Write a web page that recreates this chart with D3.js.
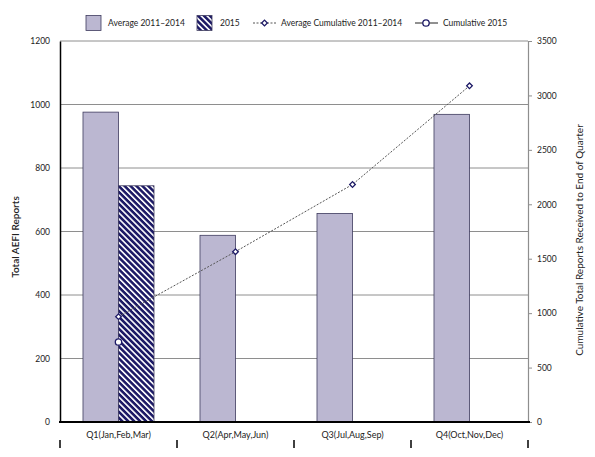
<!DOCTYPE html>
<html>
<head>
<meta charset="utf-8">
<script src="https://cdn.jsdelivr.net/npm/d3@7"></script>
<style>
  body { margin: 0; background: #fff; }
  text { font-family: Lato, "Open Sans", sans-serif; fill: #222; }
</style>
</head>
<body>
<div id="chart"></div>
<script>
var quarters = ['Q1(Jan,Feb,Mar)', 'Q2(Apr,May,Jun)', 'Q3(Jul,Aug,Sep)', 'Q4(Oct,Nov,Dec)'];
var avgReports = [976, 588, 657, 969];
var reports2015 = [744, null, null, null];
var avgCumulative = [968, 1565, 2182, 3088];
var cumulative2015 = [735, null, null, null];
var leftTicks = [0, 200, 400, 600, 800, 1000, 1200];
var rightTicks = [0, 500, 1000, 1500, 2000, 2500, 3000, 3500];

function AefiChart() {
  this._width = 595;
  this._height = 457;
  this._left = 60;
  this._right = 528;
  this._top = 41;
  this._bottom = 422;
  this._navy = '#1d1a66';
  this._lilac = '#bbb7d1';
}

AefiChart.prototype._defs = function(svg) {
  let pat = svg.append('defs').append('pattern')
    .attr('id', 'hatch')
    .attr('patternUnits', 'userSpaceOnUse')
    .attr('width', 4.2)
    .attr('height', 4.2)
    .attr('patternTransform', 'rotate(-45)');
  pat.append('rect').attr('width', 4.2).attr('height', 4.2).attr('fill', this._navy);
  pat.append('rect').attr('x', 0).attr('width', 1.6).attr('height', 4.2).attr('fill', '#fff');
}

// small rotated square used for the average cumulative series
AefiChart.prototype._diamond = d3.symbol().type(d3.symbolSquare).size(16);

AefiChart.prototype._axes = function(svg, y, y2) {
  let self = this;
  // gridlines
  svg.append('g').selectAll('line')
    .data(leftTicks.slice(1))
    .join('line')
    .attr('x1', self._left).attr('x2', self._right)
    .attr('y1', d => y(d)).attr('y2', d => y(d))
    .attr('stroke', '#8e8e8e').attr('stroke-width', 1);

  // left axis
  let la = svg.append('g')
    .attr('transform', 'translate(' + self._left + ',0)')
    .call(d3.axisLeft(y).tickValues(leftTicks).tickFormat(d3.format('d')).tickSize(0).tickPadding(10));
  la.select('.domain').attr('stroke', '#000').attr('stroke-width', 1.5);
  la.selectAll('text').attr('font-size', '8.5px').attr('font-family', 'Lato, sans-serif').attr('fill', '#333');

  // right axis
  let ra = svg.append('g')
    .attr('transform', 'translate(' + self._right + ',0)')
    .call(d3.axisRight(y2).tickValues(rightTicks).tickFormat(d3.format('d')).tickSize(4).tickPadding(5));
  ra.select('.domain').attr('stroke', '#8e8e8e').attr('stroke-width', 1.2);
  ra.selectAll('line').attr('stroke', '#8e8e8e');
  ra.selectAll('text').attr('font-size', '8.5px').attr('font-family', 'Lato, sans-serif').attr('fill', '#333');

  // axis titles
  svg.append('text')
    .attr('transform', 'translate(19,237) rotate(-90)')
    .attr('text-anchor', 'middle')
    .attr('font-size', '10px')
    .attr('font-weight', 600)
    .attr('fill', '#333')
    .text('Total AEFI Reports');
  svg.append('text')
    .attr('transform', 'translate(583,240) rotate(-90)')
    .attr('text-anchor', 'middle')
    .attr('font-size', '10px')
    .attr('fill', '#333')
    .text('Cumulative Total Reports Received to End of Quarter');
}

AefiChart.prototype._bars = function(svg, x0, x1, y) {
  let self = this;
  let groups = svg.append('g').selectAll('g')
    .data(quarters)
    .join('g')
    .attr('transform', d => 'translate(' + x0(d) + ',0)');

  groups.selectAll('rect')
    .data(function(q, i) {
      return [{s: 'avg', v: avgReports[i]}, {s: '2015', v: reports2015[i]}].filter(d => d.v !== null);
    })
    .join('rect')
    .attr('x', d => x1(d.s))
    .attr('width', x1.bandwidth())
    .attr('y', d => y(d.v))
    .attr('height', d => y(0) - y(d.v))
    .attr('fill', d => d.s === 'avg' ? self._lilac : 'url(#hatch)')
    .attr('stroke', '#3e3b5e')
    .attr('stroke-width', 0.8);
}

AefiChart.prototype._lines = function(svg, x0, y2) {
  let self = this;
  let cx = q => x0(q) + x0.bandwidth() / 2;
  let avgPts = quarters.map((q, i) => ({x: cx(q), v: avgCumulative[i]}));
  let curPts = quarters.map((q, i) => ({x: cx(q), v: cumulative2015[i]})).filter(d => d.v !== null);

  svg.append('path')
    .datum(avgPts)
    .attr('d', d3.line().x(d => d.x).y(d => y2(d.v)))
    .attr('fill', 'none')
    .attr('stroke', '#555')
    .attr('stroke-width', 1)
    .attr('stroke-dasharray', '2,1.5');
  svg.append('path')
    .datum(curPts)
    .attr('d', d3.line().x(d => d.x).y(d => y2(d.v)))
    .attr('fill', 'none')
    .attr('stroke', '#222')
    .attr('stroke-width', 1);

  svg.append('g').selectAll('path')
    .data(avgPts)
    .join('path')
    .attr('transform', d => 'translate(' + d.x + ',' + y2(d.v) + ') rotate(45)')
    .attr('d', self._diamond)
    .attr('fill', '#fff')
    .attr('stroke', self._navy)
    .attr('stroke-width', 1.3);
  svg.append('g').selectAll('circle')
    .data(curPts)
    .join('circle')
    .attr('cx', d => d.x)
    .attr('cy', d => y2(d.v))
    .attr('r', 3.2)
    .attr('fill', '#fff')
    .attr('stroke', self._navy)
    .attr('stroke-width', 1.3);
}

AefiChart.prototype._bottomAxis = function(svg, x0) {
  let self = this;
  svg.append('line')
    .attr('x1', self._left - 1).attr('x2', self._right + 2)
    .attr('y1', self._bottom).attr('y2', self._bottom)
    .attr('stroke', '#000').attr('stroke-width', 2);

  svg.append('g').selectAll('text')
    .data(quarters)
    .join('text')
    .attr('x', d => x0(d) + x0.bandwidth() / 2)
    .attr('y', 438)
    .attr('text-anchor', 'middle')
    .attr('font-size', '9px')
    .attr('fill', '#222')
    .text(d => d);

  let edges = quarters.map(q => x0(q) - x0.step() * x0.paddingInner() / 2);
  edges.push(self._right);
  svg.append('g').selectAll('line')
    .data(edges)
    .join('line')
    .attr('x1', d => d).attr('x2', d => d)
    .attr('y1', 440).attr('y2', 448)
    .attr('stroke', '#000').attr('stroke-width', 1.5);
}

AefiChart.prototype._legend = function(svg) {
  let self = this;
  let g = svg.append('g').attr('font-size', '8.5px');
  g.append('rect').attr('x', 86).attr('y', 15.5).attr('width', 15).attr('height', 15)
    .attr('fill', self._lilac).attr('stroke', '#3e3b5e').attr('stroke-width', 0.8);
  g.append('text').attr('x', 108).attr('y', 26).text('Average 2011–2014');

  g.append('rect').attr('x', 197).attr('y', 15.5).attr('width', 15).attr('height', 15)
    .attr('fill', 'url(#hatch)').attr('stroke', '#3e3b5e').attr('stroke-width', 0.8);
  g.append('text').attr('x', 220).attr('y', 26).text('2015');

  g.append('line').attr('x1', 253).attr('x2', 276).attr('y1', 23).attr('y2', 23)
    .attr('stroke', '#555').attr('stroke-dasharray', '2,1.5');
  g.append('path').attr('transform', 'translate(264.5,23) rotate(45)')
    .attr('d', self._diamond)
    .attr('fill', '#fff').attr('stroke', self._navy).attr('stroke-width', 1.3);
  g.append('text').attr('x', 281).attr('y', 26).text('Average Cumulative 2011–2014');

  g.append('line').attr('x1', 415).attr('x2', 438).attr('y1', 23).attr('y2', 23)
    .attr('stroke', '#222');
  g.append('circle').attr('cx', 426).attr('cy', 23).attr('r', 3.2)
    .attr('fill', '#fff').attr('stroke', self._navy).attr('stroke-width', 1.3);
  g.append('text').attr('x', 443).attr('y', 26).text('Cumulative 2015');
}

AefiChart.prototype.plot = function(container) {
  let svg = d3.select(container).append('svg')
    .attr('width', this._width)
    .attr('height', this._height);

  let x0 = d3.scaleBand().domain(quarters)
    .range([this._left, this._right])
    .paddingInner(0.393).paddingOuter(0.1965);
  let x1 = d3.scaleBand().domain(['avg', '2015']).range([0, x0.bandwidth()]);
  let y = d3.scaleLinear().domain([0, 1200]).range([this._bottom, this._top]);
  let y2 = d3.scaleLinear().domain([0, 3500]).range([this._bottom, this._top]);

  this._defs(svg);
  this._axes(svg, y, y2);
  this._bars(svg, x0, x1, y);
  this._lines(svg, x0, y2);
  this._bottomAxis(svg, x0);
  this._legend(svg);
}

new AefiChart().plot('#chart');
</script>
</body>
</html>
